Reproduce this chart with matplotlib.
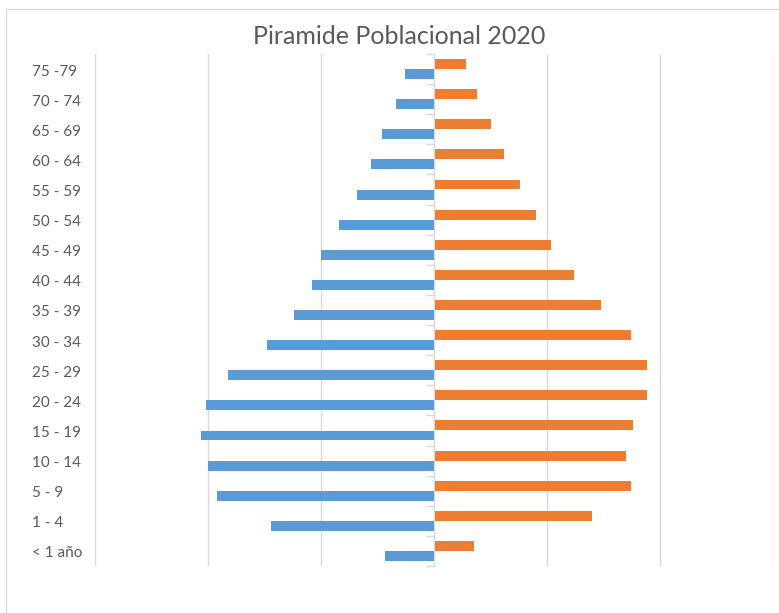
import matplotlib.pyplot as plt
import matplotlib.patches as patches
import matplotlib.transforms as transforms
import numpy as np

# age groups, bottom to top
grupos = ["< 1 año", "1 - 4", "5 - 9", "10 - 14", "15 - 19", "20 - 24", "25 - 29",
          "30 - 34", "35 - 39", "40 - 44", "45 - 49", "50 - 54", "55 - 59",
          "60 - 64", "65 - 69", "70 - 74", "75 -79"]

hombres = [437, 1440, 1917, 1999, 2059, 2020, 1819, 1478, 1239, 1076, 996,
           837, 677, 559, 458, 337, 257]
mujeres = [358, 1399, 1743, 1701, 1760, 1881, 1881, 1743, 1479, 1240, 1038,
           900, 758, 618, 500, 379, 279]

azul = "#5B9BD5"
naranja = "#ED7D31"
gris = "#595959"

plt.rcParams['font.family'] = ['Lato', 'DejaVu Sans']

fig = plt.figure(figsize=(7.79, 6.13), dpi=100)
ax = fig.add_axes([95 / 779, 47 / 613, 678 / 779, 512 / 613])

y = np.arange(len(grupos))
h = 0.33
ax.barh(y + 0.167, mujeres, height=h, color=naranja, zorder=3)
ax.barh(y - 0.167, [-v for v in hombres], height=h, color=azul, zorder=3)

ax.set_xlim(-3000, 3000)
ax.set_ylim(-0.5, len(grupos) - 0.5)

ax.set_xticks(np.arange(-3000, 3001, 1000))
ax.tick_params(axis='x', length=0, labelbottom=False)
ax.grid(axis='x', color='#d9d9d9', lw=1, zorder=0)

# category axis sits at zero
for s in ['top', 'right', 'bottom']:
    ax.spines[s].set_visible(False)
ax.spines['left'].set_position(('data', 0))
ax.spines['left'].set_color('#d9d9d9')
ax.spines['left'].set_zorder(4)
ax.set_yticks(np.arange(-0.5, len(grupos), 1))
ax.tick_params(axis='y', length=6, width=1, color='#d9d9d9', labelleft=False)

trans = transforms.blended_transform_factory(fig.transFigure, ax.transData)
trans = trans + transforms.ScaledTranslation(0, -2.5 / 100, fig.dpi_scale_trans)
for yi, g in zip(y, grupos):
    ax.text(32 / 779, yi, g, transform=trans, ha='left', va='center',
            fontsize=11, color=gris)

fig.text(399 / 779, 1 - 36 / 613, "Piramide Poblacional 2020", ha='center',
         va='center', fontsize=18, color=gris)

fig.patches.append(patches.Rectangle((6 / 779, -0.1), 1.2, 1 - 9 / 613 + 0.1,
                                     transform=fig.transFigure, fill=False,
                                     edgecolor='#d9d9d9', lw=1))

plt.savefig("out.png", dpi=100)
